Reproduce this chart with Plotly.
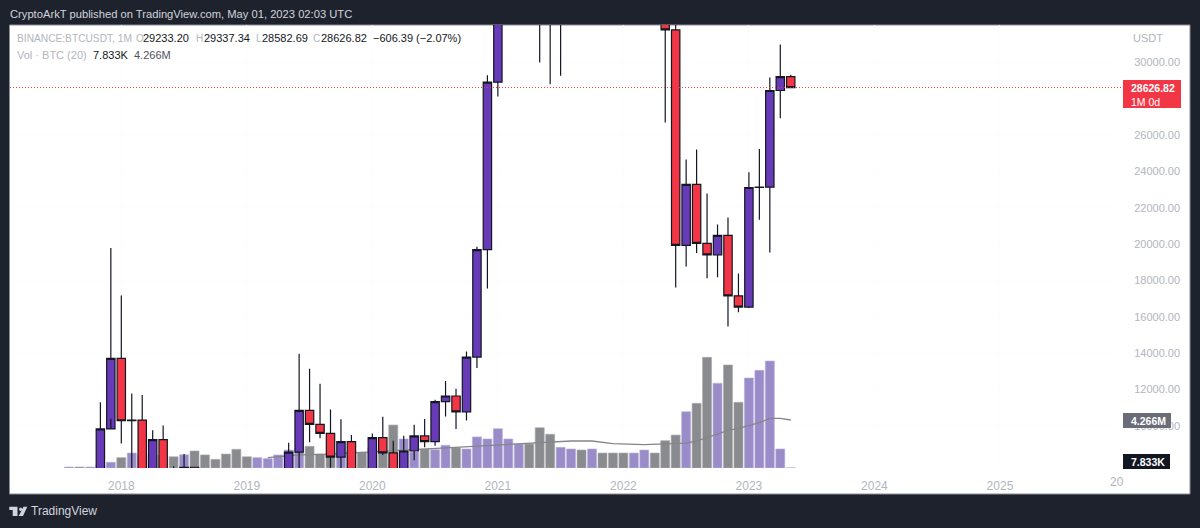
import plotly.graph_objects as go

W, H = 1200, 528

# ---- Data (monthly bars, Aug 2017 - May 2023) ----
months = [f"{y}-{m:02d}" for y in range(2017, 2027) for m in range(1, 13)][7:]
opens = [4261, 4689, 4378, 6463, 9837, 13716, 10285, 10325, 6922, 9244, 7494, 6391, 7725, 7011, 6626, 6369, 4041,
         3701, 3434, 3814, 4102, 5320, 8555, 10854, 10082, 9588, 8289, 9140, 7541,
         7195, 9352, 8523, 6412, 8620, 9448, 9138, 11335, 11649, 10776, 13791, 19700,
         28923, 33092, 45135, 58741, 57694, 37253, 35045, 41461, 47100, 43824, 61299, 56950,
         46216, 38466, 43160, 45510, 37630, 31801, 19942, 23296, 20048, 19422, 20490, 17165,
         16541, 23125, 23142, 28465, 29233.20]
highs = [4745, 4939, 6470, 11300, 19798, 17176, 11786, 11710, 9759, 10020, 7786, 8450, 7750, 7410, 7680, 6550, 4300,
         4140, 4200, 4140, 5640, 9074, 13970, 13147, 12325, 10905, 10370, 9500, 7700,
         9578, 10500, 9188, 9460, 10067, 10380, 11444, 12468, 12050, 14100, 19863, 29300,
         41950, 58352, 61844, 64854, 59500, 41330, 42448, 50500, 52920, 67000, 69000, 59053,
         47990, 45821, 48190, 47444, 40000, 32400, 24668, 25214, 22799, 21085, 21480, 18387,
         23960, 25250, 29184, 31000, 29337.34]
lows = [3400, 2817, 4110, 5325, 10400, 9035, 6000, 6600, 6430, 7034, 5750, 6072, 5880, 6100, 6200, 3652, 3156,
        3349, 3400, 3700, 4050, 5320, 7470, 9100, 9320, 7700, 7300, 6500, 6430,
        6850, 8400, 3782, 6150, 8117, 8833, 8913, 10518, 9825, 10300, 13195, 17572,
        28130, 32296, 45000, 47044, 30000, 28805, 29278, 37332, 39600, 43283, 53256, 42000,
        32917, 34322, 37155, 37578, 26700, 17622, 18781, 19520, 18125, 18190, 15476, 16256,
        16499, 21351, 19549, 26942, 28582.69]
closes = [4689, 4378, 6463, 9838, 13716, 10285, 10326, 6923, 9244, 7494, 6391, 7725, 7011, 6626, 6371, 4041, 3702,
          3434, 3813, 4103, 5320, 8555, 10854, 10082, 9588, 8289, 9140, 7541, 7195,
          9352, 8523, 6410, 8620, 9448, 9138, 11335, 11649, 10776, 13791, 19700, 28923,
          33092, 45135, 58741, 57694, 37253, 35045, 41461, 47100, 43824, 61299, 56950, 46216,
          38466, 43160, 45510, 37630, 31801, 19942, 23296, 20050, 19422, 20490, 17164, 16542,
          23125, 23142, 28465, 29233, 28626.82]
vol_m = [0.09, 0.09, 0.09, 0.30, 0.51, 0.92, 1.33, 1.16, 1.10, 1.16, 1.00, 1.18, 1.51, 1.16, 0.77, 1.24, 1.66,
         1.00, 0.92, 0.83, 1.16, 1.60, 1.75, 1.93, 1.24, 1.40, 1.09, 1.54, 1.40,
         1.75, 1.40, 3.82, 2.58, 1.42, 1.69, 1.63, 2.02, 1.80, 1.69, 2.76, 2.58,
         3.49, 2.58, 2.13, 2.13, 3.58, 3.00, 1.84, 1.69, 1.60, 1.69, 1.33, 1.33,
         1.33, 1.33, 1.60, 1.33, 2.43, 2.93, 5.00, 5.75, 9.84, 7.53, 9.16, 5.84,
         8.00, 8.68, 9.51, 1.69, 0.007833]
vol_up = [1, 0, 1, 1, 1, 0, 1, 0, 1, 0, 0, 1, 0, 0, 0, 0, 0,
          0, 1, 1, 1, 1, 1, 0, 0, 0, 1, 0, 0,
          1, 0, 0, 1, 1, 0, 1, 1, 0, 1, 1, 1,
          1, 1, 1, 0, 0, 0, 1, 1, 0, 1, 0, 0,
          0, 1, 1, 0, 0, 0, 1, 0, 0, 1, 0, 0,
          1, 1, 1, 1, 0]
ma_months = ["2019-03", "2019-06", "2019-09", "2019-12", "2020-03", "2020-06", "2020-11", "2021-02", "2021-06",
             "2021-08", "2021-10", "2021-12", "2022-03", "2022-05", "2022-07", "2022-08", "2022-09", "2022-10",
             "2022-11", "2022-12", "2023-01", "2023-02", "2023-03", "2023-04", "2023-05"]
ma_vals = [0.92, 1.16, 1.24, 1.39, 1.54, 1.69, 1.93, 2.07, 2.28, 2.40, 2.40, 2.16, 2.07, 2.13, 2.22, 2.40, 2.73,
           3.02, 3.35, 3.53, 3.76, 4.03, 4.41, 4.41, 4.266]
year_ticks = ["2018-01", "2019-01", "2020-01", "2021-01", "2022-01", "2023-01", "2024-01", "2025-01"]
year_labels = ["2018", "2019", "2020", "2021", "2022", "2023", "2024", "2025"]
price_ticks = [10000, 12000, 14000, 16000, 18000, 20000, 22000, 24000, 26000, 30000]
last_close = 28626.82

# ---- Style ----
DARK = "#1e222d"
PURPLE = "#673ab7"
RED = "#f23645"
GREY_TXT = "#b2b5be"
INK = "#131722"
FONT = "Liberation Sans"
FS = 11

def px(x):
    return x / W

def py(y):
    return 1 - y / H

fig = go.Figure()
fig.add_trace(go.Bar(
    x=months[:len(vol_m)], y=vol_m, yaxis="y",
    marker=dict(color=["#9a8cc8" if u else "#8a8b8f" for u in vol_up],
                line=dict(color=["#b9aedb" if u else "#a9aaad" for u in vol_up], width=0.6)),
    hoverinfo="skip"))
fig.add_trace(go.Scatter(
    x=ma_months, y=ma_vals, yaxis="y", mode="lines",
    line=dict(color="#84858b", width=1.3), hoverinfo="skip"))
fig.add_trace(go.Candlestick(
    x=months[:len(opens)], open=opens, high=highs, low=lows, close=closes, yaxis="y2",
    whiskerwidth=0,
    increasing=dict(line=dict(color=INK, width=1.2), fillcolor=PURPLE),
    decreasing=dict(line=dict(color=INK, width=1.2), fillcolor=RED),
    hoverinfo="skip"))

shapes = [
    dict(type="rect", xref="paper", yref="paper", x0=px(9.5), x1=px(1190), y0=py(494), y1=py(25),
         fillcolor="#ffffff", line=dict(color="#8b8e97", width=1), layer="below"),
    dict(type="line", xref="paper", yref="y2", x0=px(10), x1=px(1122), y0=last_close, y1=last_close,
         line=dict(color=RED, width=1, dash="1px,2px")),
    dict(type="rect", xref="paper", yref="paper", x0=px(1123), x1=px(1181), y0=py(108), y1=py(80),
         fillcolor=RED, line=dict(width=0)),
    dict(type="rect", xref="paper", yref="paper", x0=px(1123), x1=px(1171), y0=py(428), y1=py(413),
         fillcolor="#6a6d78", line=dict(width=0)),
    dict(type="rect", xref="paper", yref="paper", x0=px(1123), x1=px(1170), y0=py(469), y1=py(454),
         fillcolor=INK, line=dict(width=0)),
]

def poly(pts):
    return "M" + " L".join(f"{px(a):.5f},{py(b):.5f}" for a, b in pts) + " Z"

# TradingView logo
for pts in ([(9.3, 506.7), (17.5, 506.7), (17.5, 516), (12.7, 516), (12.7, 510), (9.3, 510)],
            [(23.5, 506.7), (27.3, 506.7), (23, 516), (18.7, 516)]):
    shapes.append(dict(type="path", xref="paper", yref="paper", path=poly(pts),
                       fillcolor="#d1d4dc", line=dict(width=0)))
shapes.append(dict(type="circle", xref="paper", yref="paper", x0=px(19.2), x1=px(22.2), y0=py(511), y1=py(507.5),
                   fillcolor="#d1d4dc", line=dict(width=0)))

def note(text, x, y, color, size=FS, anchor="left", bold=False):
    return dict(text=f"<b>{text}</b>" if bold else text, x=px(x), y=py(y), xref="paper", yref="paper",
                xanchor=anchor, yanchor="middle", showarrow=False,
                font=dict(family=FONT, size=size, color=color), borderpad=0, borderwidth=0)

annotations = [
    note("CryptoArkT published on TradingView.com, May 01, 2023 02:03 UTC", 10, 14, "#d1d4dc", 11.2),
    note("TradingView", 31, 511, "#d1d4dc", 12),
    note("BINANCE:BTCUSDT, 1M", 17, 38.5, GREY_TXT, 10.2),
    note("O", 135.5, 38.5, GREY_TXT, 10), note("29233.20", 143, 38.5, INK),
    note("H", 196, 38.5, GREY_TXT, 10), note("29337.34", 204, 38.5, INK),
    note("L", 256, 38.5, GREY_TXT, 10), note("28582.69", 262, 38.5, INK),
    note("C", 313, 38.5, GREY_TXT, 10), note("28626.82", 321, 38.5, INK),
    note("−606.39 (−2.07%)", 373, 38.5, INK),
    note("Vol · BTC (20)", 17, 55, GREY_TXT),
    note("7.833K", 93, 55, INK), note("4.266M", 134, 55, "#50535e"),
    note("USDT", 1133, 38, GREY_TXT),
    note("28626.82", 1131, 87.5, "#ffffff", 10.5, bold=True),
    note("1M 0d", 1131, 101.5, "#ffffff", 10.5),
    note("4.266M", 1131, 421, "#ffffff", 10.5, bold=True),
    note("7.833K", 1131, 462, "#ffffff", 10.5, bold=True),
    note("20", 1117, 482, GREY_TXT, 12, anchor="center"),
]

dom_y = [py(468), py(25)]
fig.update_layout(
    width=W, height=H, autosize=False, margin=dict(l=0, r=0, t=0, b=0),
    paper_bgcolor=DARK, plot_bgcolor="rgba(0,0,0,0)", showlegend=False, hovermode=False,
    barmode="overlay", bargap=0.14, boxgap=0.2, boxgroupgap=0,
    font=dict(family=FONT, size=FS, color=GREY_TXT),
    shapes=shapes, annotations=annotations,
    xaxis=dict(domain=[px(10), px(1117)], type="category", categoryorder="array", categoryarray=months,
               range=[-5.64, 100.19], tickmode="array", tickvals=year_ticks, ticktext=year_labels,
               showgrid=True, gridcolor="#fdfdfd", zeroline=False, showline=False,
               ticks="outside", ticklen=7, tickcolor="rgba(0,0,0,0)", tickfont=dict(size=12, color=GREY_TXT),
               rangeslider=dict(visible=False), fixedrange=True),
    yaxis=dict(domain=dom_y, range=[0, 39.38], visible=False, fixedrange=True),
    yaxis2=dict(domain=dom_y, overlaying="y", side="right", range=[7685, 32070], tickmode="array",
                tickvals=price_ticks, ticktext=[f"{v}.00" for v in price_ticks],
                ticks="outside", ticklen=14, tickcolor="rgba(0,0,0,0)",
                showgrid=True, gridcolor="#fdfdfd", zeroline=False, showline=False,
                tickfont=dict(size=FS, color=GREY_TXT), fixedrange=True),
)

fig.write_html("out.html", config=dict(displayModeBar=False),
               post_script="document.body.style.margin='0';document.body.style.background='#1e222d';")
